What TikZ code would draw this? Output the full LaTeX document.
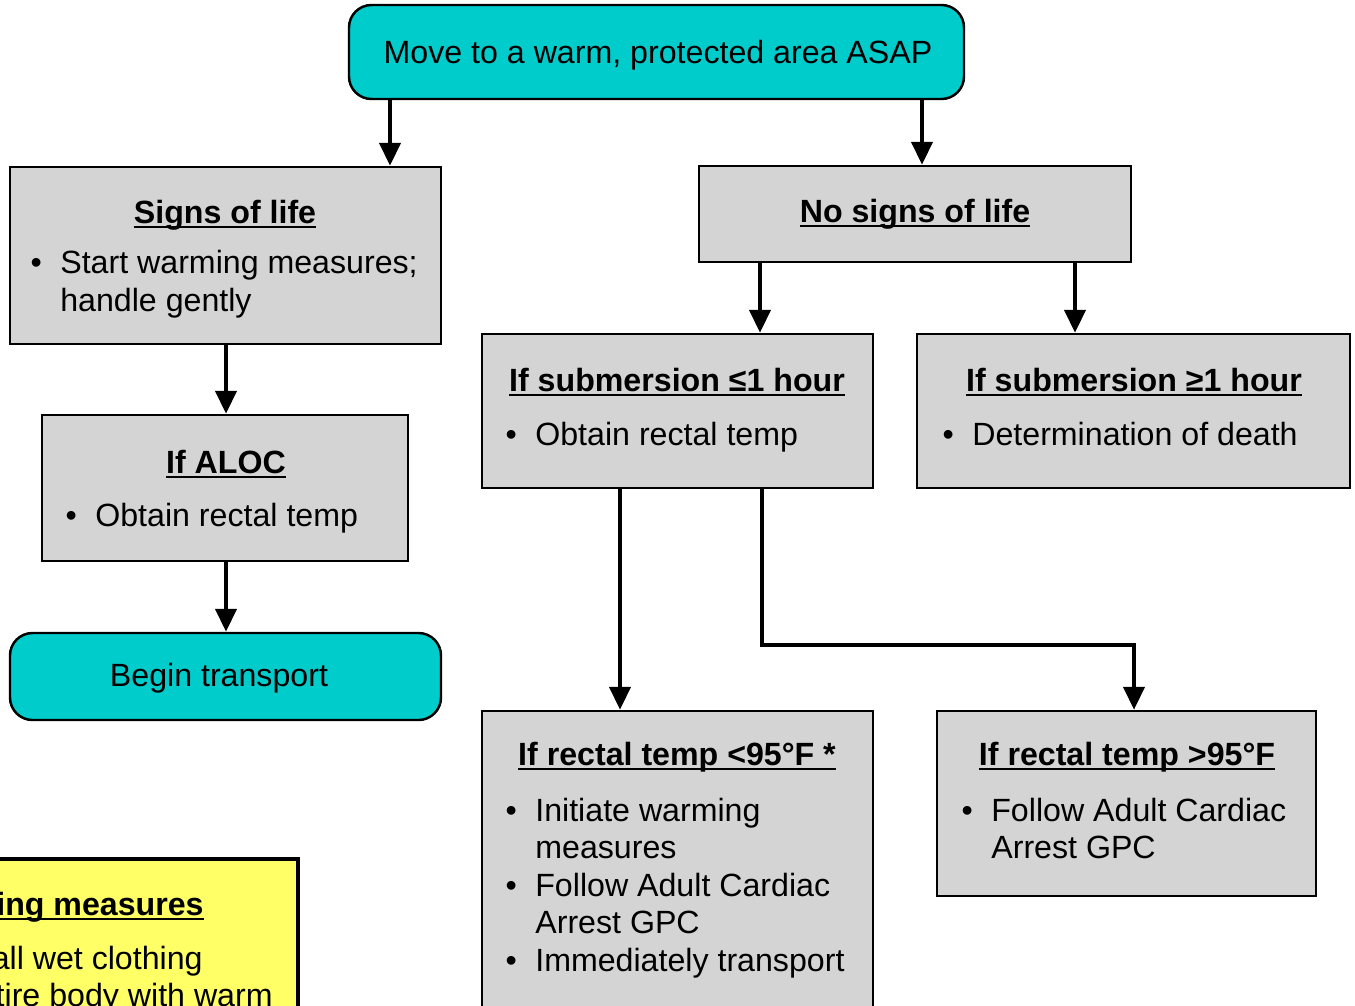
\documentclass[tikz,border=0pt]{standalone}
\usepackage{fontspec}
\setmainfont{Liberation Sans}
\usetikzlibrary{arrows.meta,fit}

\definecolor{stepgray}{RGB}{212,212,212}
\definecolor{actioncyan}{RGB}{0,204,204}
\definecolor{noteyellow}{RGB}{255,255,102}

\newcommand{\flowfont}{\fontsize{18.3}{22}\selectfont}
\newsavebox{\headbox}
\newcommand{\headline}[1]{\sbox{\headbox}{\bfseries #1}\rlap{\rule[-0.1cm]{\wd\headbox}{0.04cm}}\usebox{\headbox}}
\newcommand{\bulletitem}{\llap{\textbullet\hspace{0.37cm}}}

\tikzset{
  stepbox/.style={draw, line width=1.4pt, fill=stepgray, inner sep=0pt},
  actionbox/.style={stepbox, fill=actioncyan, rounded corners=0.45cm},
  notebox/.style={stepbox, fill=noteyellow, line width=1.8pt},
  txt/.style={inner sep=0pt, font=\flowfont, anchor=base west},
  head/.style={txt, anchor=base},
  flow/.style={line width=2.4pt, -{Triangle[width=0.42cm,length=0.46cm]}}
}

\begin{document}
\begin{tikzpicture}[x=0.02cm, y=-0.02cm]
\useasboundingbox (0,0) rectangle (1355,1005);
\clip (0,0) rectangle (1355,1005);

% boxes
\node[actionbox, fit={(349,5) (964,99)}] (move) {};
\node[stepbox, fit={(10,167) (441,344)}] (signs) {};
\node[stepbox, fit={(42,415) (408,561)}] (aloc) {};
\node[actionbox, fit={(10,633) (441,720)}] (transport) {};
\node[stepbox, fit={(699,166) (1131,262)}] (nosigns) {};
\node[stepbox, fit={(482,334) (873,488)}] (subshort) {};
\node[stepbox, fit={(917,334) (1350,488)}] (sublong) {};
\node[stepbox, fit={(482,711) (873,1060)}] (cold) {};
\node[stepbox, fit={(937,711) (1316,896)}] (warm) {};
\node[notebox, fit={(-60,859) (298,1060)}] (note) {};

% texts
\node[head] (move-t) at (658,63) {Move to a warm, protected area ASAP};

\node[head] (signs-h) at (225,223) {\headline{Signs of life}};
\node[txt] (signs-1) at (60,273) {\bulletitem Start warming measures;};
\node[txt] (signs-2) at (60,311) {handle gently};

\node[head] (aloc-h) at (226,473) {\headline{If ALOC}};
\node[txt] (aloc-1) at (95,526) {\bulletitem Obtain rectal temp};

\node[head] (transport-t) at (219,686) {Begin transport};

\node[head] (nosigns-h) at (915,222) {\headline{No signs of life}};

\node[head] (subshort-h) at (677,391) {\headline{If submersion ≤1 hour}};
\node[txt] (subshort-1) at (535,445) {\bulletitem Obtain rectal temp};

\node[head] (sublong-h) at (1134,391) {\headline{If submersion ≥1 hour}};
\node[txt] (sublong-1) at (972,445) {\bulletitem Determination of death};

\node[head] (cold-h) at (677,765) {\headline{If rectal temp <95°F *}};
\node[txt] (cold-1) at (535,821) {\bulletitem Initiate warming};
\node[txt] (cold-2) at (535,858) {measures};
\node[txt] (cold-3) at (535,896) {\bulletitem Follow Adult Cardiac};
\node[txt] (cold-4) at (535,933) {Arrest GPC};
\node[txt] (cold-5) at (535,971) {\bulletitem Immediately transport};

\node[head] (warm-h) at (1127,765) {\headline{If rectal temp >95°F}};
\node[txt] (warm-1) at (991,821) {\bulletitem Follow Adult Cardiac};
\node[txt] (warm-2) at (991,858) {Arrest GPC};

\node[txt, anchor=base east] (note-h) at (204,915) {\headline{ing measures}};
\node[txt, anchor=base east] (note-1) at (203,969) {all wet clothing};
\node[txt, anchor=base east] (note-2) at (273,1006) {tire body with warm};

% connectors
\draw[flow] (move.south -| 390,0) -- (signs.north -| 390,0);
\draw[flow] (move.south -| 922,0) -- (nosigns.north -| 922,0);
\draw[flow] (signs.south -| 226,0) -- (aloc.north -| 226,0);
\draw[flow] (aloc.south -| 226,0) -- (transport.north -| 226,0);
\draw[flow] (nosigns.south -| 760,0) -- (subshort.north -| 760,0);
\draw[flow] (nosigns.south -| 1075,0) -- (sublong.north -| 1075,0);
\draw[flow] (subshort.south -| 620,0) -- (cold.north -| 620,0);
\draw[flow] (subshort.south -| 762,0) -- ++(0,156) -| (warm.north -| 1134,0);
\end{tikzpicture}
\end{document}
